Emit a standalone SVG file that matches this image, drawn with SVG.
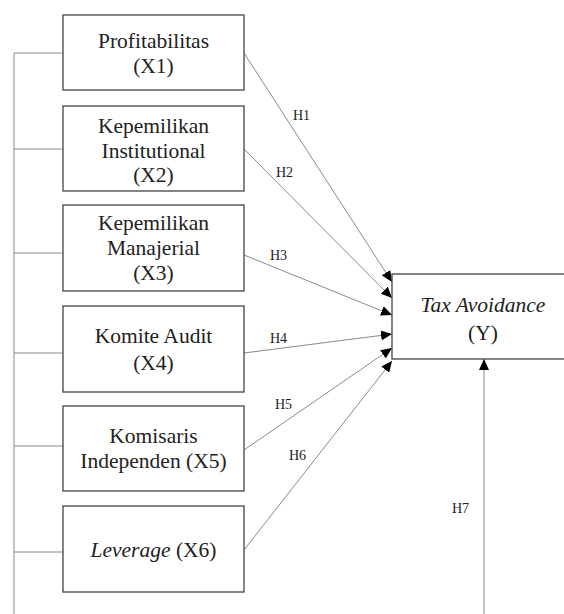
<svg xmlns="http://www.w3.org/2000/svg" width="564" height="614" viewBox="0 0 564 614">
<style>
.box{fill:#fff;stroke:#444;stroke-width:1.3}
.t{font-family:'Liberation Serif','DejaVu Serif',serif;font-size:21.5px;fill:#222;text-anchor:middle}
.h{font-family:'Liberation Serif','DejaVu Serif',serif;font-size:14px;fill:#222}
.c{stroke:#8a8a8a;stroke-width:1;fill:none}
.a{marker-end:url(#arr)}
</style>
<defs>
<marker id="arr" markerUnits="userSpaceOnUse" markerWidth="12" markerHeight="10" refX="11" refY="5" orient="auto">
<path d="M0,0 L11,5 L0,10 Z" fill="#000"/>
</marker>
</defs>
<rect width="564" height="614" fill="#fff"/>
<g id="connectors">
<path class="c" d="M14,53 V614"/>
<path class="c" d="M14,53 H63 M14,149 H63 M14,253 H63 M14,353 H63 M14,446 H63 M14,552 H63"/>
<line class="c a" x1="244" y1="53" x2="392" y2="282"/>
<line class="c a" x1="244" y1="149" x2="392" y2="298"/>
<line class="c a" x1="244" y1="255" x2="392" y2="315"/>
<line class="c a" x1="244" y1="353" x2="392" y2="334"/>
<line class="c a" x1="244" y1="450" x2="392" y2="348"/>
<line class="c a" x1="244" y1="550" x2="392" y2="361"/>
<line class="c a" x1="484" y1="614" x2="484" y2="359"/>
<text class="h" x="293" y="120">H1</text>
<text class="h" x="276" y="177">H2</text>
<text class="h" x="270" y="260">H3</text>
<text class="h" x="270" y="343">H4</text>
<text class="h" x="275" y="409">H5</text>
<text class="h" x="289" y="460">H6</text>
<text class="h" x="452" y="513">H7</text>
</g>
<g id="x1"><rect class="box" x="63" y="15" width="181" height="75"/>
<text class="t" x="153.5" y="48">Profitabilitas</text><text class="t" x="153.5" y="73">(X1)</text></g>
<g id="x2"><rect class="box" x="63" y="106" width="181" height="85"/>
<text class="t" x="153.5" y="133">Kepemilikan</text><text class="t" x="153.5" y="158">Institutional</text><text class="t" x="153.5" y="182">(X2)</text></g>
<g id="x3"><rect class="box" x="63" y="205" width="181" height="86"/>
<text class="t" x="153.5" y="230">Kepemilikan</text><text class="t" x="153.5" y="255">Manajerial</text><text class="t" x="153.5" y="280">(X3)</text></g>
<g id="x4"><rect class="box" x="63" y="306" width="181" height="86"/>
<text class="t" x="153.5" y="343">Komite Audit</text><text class="t" x="153.5" y="370">(X4)</text></g>
<g id="x5"><rect class="box" x="63" y="406" width="181" height="85"/>
<text class="t" x="153.5" y="443">Komisaris</text><text class="t" x="153.5" y="468">Independen (X5)</text></g>
<g id="x6"><rect class="box" x="63" y="506" width="181" height="86"/>
<text class="t" x="153.5" y="557"><tspan font-style="italic">Leverage</tspan> (X6)</text></g>
<g id="y"><rect class="box" x="392" y="274" width="190" height="85"/>
<text class="t" x="483" y="312" font-style="italic">Tax Avoidance</text><text class="t" x="483" y="340">(Y)</text></g>
</svg>
